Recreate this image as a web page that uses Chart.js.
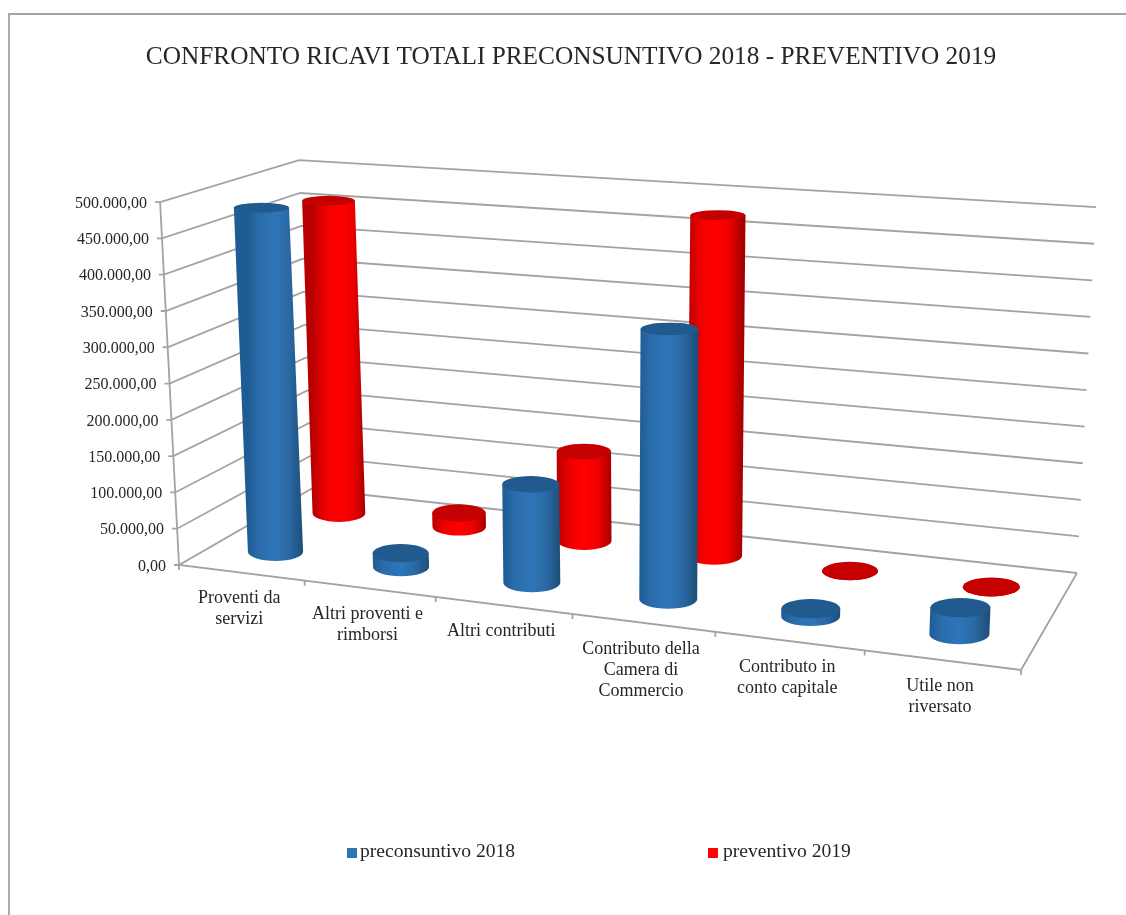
<!DOCTYPE html>
<html lang="it">
<head>
    <meta charset="UTF-8">
    <title>Confronto ricavi totali</title>
    <script src="https://cdn.jsdelivr.net/npm/chart.js"></script>
    <style>
        html, body { margin: 0; padding: 0; background: #fff; }
        canvas { display: block; }
    </style>
</head>
<body>
    <canvas id="ricaviChart" width="1126" height="915"></canvas>

    <script>
        const categories = [
            ['Proventi da', 'servizi'],
            ['Altri proventi e', 'rimborsi'],
            ['Altri contributi'],
            ['Contributo della', 'Camera di', 'Commercio'],
            ['Contributo in', 'conto capitale'],
            ['Utile non', 'riversato']
        ];
        const preconsuntivo2018 = [482000, 19000, 133000, 358000, 10000, 34000];
        const preventivo2019 = [460000, 20000, 127000, 475000, 0, 0];

        // floor of the 3D box as seen on the page: front-left, front-right, back-right, back-left
        const floorQuad = [[179, 565], [1021, 670], [1077, 573], [311, 489]];
        // verticals converge on this point far below the page
        const vanish = [628, 9187];
        // box height along a vertical, fitted on the corners (linear in page x, y)
        const heightFit = [-7.5e-8, 6.092e-5, 0.00953];
        const rowDepth = [0.25, 0.75];
        const textFont = '"Liberation Serif", "Times New Roman", serif';
        const lineColor = '#a3a3a3';
        const textColor = '#262626';

        function homography(q) {
            const [[x0, y0], [x1, y1], [x2, y2], [x3, y3]] = q;
            const dx1 = x1 - x2, dx2 = x3 - x2, sx = x0 - x1 + x2 - x3;
            const dy1 = y1 - y2, dy2 = y3 - y2, sy = y0 - y1 + y2 - y3;
            const den = dx1 * dy2 - dx2 * dy1;
            const g = (sx * dy2 - dx2 * sy) / den;
            const h = (dx1 * sy - sx * dy1) / den;
            return (u, v) => {
                const w = g * u + h * v + 1;
                return [
                    ((x1 - x0 + g * x1) * u + (x3 - x0 + h * x3) * v + x0) / w,
                    ((y1 - y0 + g * y1) * u + (y3 - y0 + h * y3) * v + y0) / w
                ];
            };
        }
        const floorMap = homography(floorQuad);

        // u: along categories, d: depth, h: height, all 0..1
        function project(u, d, h) {
            const p = floorMap(u, d);
            const q = heightFit[0] * p[0] + heightFit[1] * p[1] + heightFit[2];
            const t = q / (1 + q) * h;
            return [p[0] - (vanish[0] - p[0]) * t, p[1] - (vanish[1] - p[1]) * t];
        }

        function polyline(ctx, pts) {
            ctx.beginPath();
            pts.forEach((p, i) => i ? ctx.lineTo(p[0], p[1]) : ctx.moveTo(p[0], p[1]));
            ctx.stroke();
        }

        function drawBox(chart) {
            const ctx = chart.ctx, y = chart.scales.y, area = chart.chartArea;
            ctx.strokeStyle = lineColor;
            ctx.lineWidth = 1.8;

            // frame of the original picture, only top and left are visible
            polyline(ctx, [[1126, 14], [9, 14], [9, 915]]);

            y.ticks.forEach(t => {
                const h = (area.bottom - y.getPixelForValue(t.value)) / area.height;
                const front = project(0, 0, h);
                polyline(ctx, [[front[0] - 5, front[1]], front, project(0, 1, h), project(1, 1, h)]);
                ctx.fillStyle = textColor;
                ctx.font = '16px ' + textFont;
                ctx.textAlign = 'right';
                ctx.textBaseline = 'middle';
                ctx.fillText(t.label, front[0] - 13, front[1] + 1.5);
            });
            polyline(ctx, [project(0, 0, 1), project(0, 0, 0), project(1, 0, 0), project(1, 1, 0)]);

            const x = chart.scales.x;
            ctx.textAlign = 'center';
            ctx.textBaseline = 'middle';
            for (let i = 0; i <= categories.length; i++) {
                const p = project(i / categories.length, 0, 0);
                polyline(ctx, [p, [p[0], p[1] + 5]]);
            }
            categories.forEach((lines, i) => {
                const p = project((x.getPixelForValue(i) - area.left) / area.width, 0, 0);
                lines.forEach((txt, j) => {
                    ctx.fillStyle = textColor;
                    ctx.font = '18px ' + textFont;
                    ctx.fillText(txt, p[0] - 2, p[1] + 26 + j * 21);
                });
            });
        }

        function cylinder(ctx, chart, bar, depth, stops, topColor) {
            const area = chart.chartArea;
            const u = (bar.x - area.left) / area.width;
            const du = bar.width / area.width / 2;
            const h = (area.bottom - bar.y) / area.height;

            const base = project(u, depth, 0), top = project(u, depth, h);
            // the widths grow less from left to right than the floor does
            const local = project(u + du, depth, 0)[0] - project(u - du, depth, 0)[0];
            const mean = (project(1, depth, 0)[0] - project(0, depth, 0)[0]) * 2 * du;
            const rx = (local * 0.4 + mean * 0.6) / 2;
            const ry0 = rx * 0.33;
            const ry1 = rx * (0.33 - 0.16 * h);

            const grad = ctx.createLinearGradient(base[0] - rx, 0, base[0] + rx, 0);
            stops.forEach(s => grad.addColorStop(s[0], s[1]));
            ctx.fillStyle = grad;
            ctx.beginPath();
            ctx.moveTo(top[0] - rx, top[1]);
            ctx.lineTo(base[0] - rx, base[1]);
            ctx.ellipse(base[0], base[1], rx, ry0, 0, Math.PI, 0, true);
            ctx.lineTo(top[0] + rx, top[1]);
            ctx.closePath();
            ctx.fill();

            ctx.fillStyle = topColor;
            ctx.beginPath();
            ctx.ellipse(top[0], top[1], rx, ry1, 0, 0, Math.PI * 2);
            ctx.fill();
        }

        const blueStops = [[0, '#1f5c94'], [0.2, '#2a6cab'], [0.5, '#2e75b8'], [0.75, '#2a69a4'], [1, '#1e4e78']];
        const redStops = [[0, '#b80000'], [0.25, '#f00000'], [0.5, '#ff0000'], [0.75, '#f00000'], [1, '#a80000']];

        function drawLegend(chart) {
            const ctx = chart.ctx;
            const slots = [347, 708];
            ctx.textAlign = 'left';
            ctx.textBaseline = 'alphabetic';
            ctx.font = '19.6px ' + textFont;
            chart.data.datasets.forEach((ds, i) => {
                ctx.fillStyle = ds.backgroundColor;
                ctx.fillRect(slots[i], 848, 10, 10);
                ctx.fillStyle = textColor;
                ctx.fillText(ds.label, slots[i] + 13 + i * 2, 857);
            });
        }

        const box3d = {
            id: 'box3d',
            beforeDatasetsDraw(chart) {
                const ctx = chart.ctx;
                ctx.save();
                drawBox(chart);
                // back row first, the front row covers it
                chart.getDatasetMeta(1).data.forEach(bar =>
                    cylinder(ctx, chart, bar, rowDepth[1], redStops, '#c40000'));
                chart.getDatasetMeta(0).data.forEach(bar =>
                    cylinder(ctx, chart, bar, rowDepth[0], blueStops, '#205a8e'));
                drawLegend(chart);
                ctx.restore();
                return false;
            }
        };

        new Chart(document.getElementById('ricaviChart'), {
            type: 'bar',
            plugins: [box3d],
            data: {
                labels: categories,
                datasets: [
                    { label: 'preconsuntivo 2018', data: preconsuntivo2018, backgroundColor: '#2e75b6', grouped: false },
                    { label: 'preventivo 2019', data: preventivo2019, backgroundColor: '#ff0000', grouped: false }
                ]
            },
            options: {
                responsive: false,
                animation: false,
                layout: { padding: { left: 16 } },
                categoryPercentage: 1,
                barPercentage: 0.42,
                scales: {
                    x: { display: false },
                    y: {
                        display: false,
                        min: 0,
                        max: 500000,
                        ticks: {
                            stepSize: 50000,
                            callback: v => v.toLocaleString('it-IT', { minimumFractionDigits: 2, maximumFractionDigits: 2 })
                        }
                    }
                },
                plugins: {
                    legend: { display: false },
                    tooltip: { enabled: false },
                    title: {
                        display: true,
                        text: 'CONFRONTO RICAVI TOTALI PRECONSUNTIVO 2018 - PREVENTIVO 2019',
                        color: textColor,
                        font: { family: textFont, size: 25.3, weight: 'normal' },
                        padding: { top: 42, bottom: 20 }
                    }
                }
            }
        });
    </script>
</body>
</html>
